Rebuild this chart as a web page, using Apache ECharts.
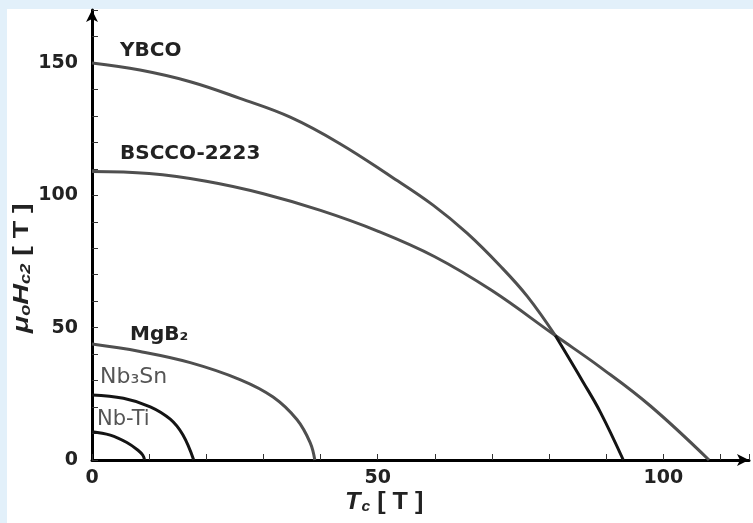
<!DOCTYPE html>
<html>
<head>
<meta charset="utf-8">
<script src="https://cdn.jsdelivr.net/npm/echarts@6/dist/echarts.min.js"></script>
<style>
html,body{margin:0;padding:0;background:#fff;}
#c{width:753px;height:523px;}
</style>
</head>
<body>
<div id="c"></div>
<script>
// Data
const tempYBCO = [0, 8.4, 17.2, 25.9, 34.7, 43.4, 52.2, 59.7, 65.7, 71.5, 76.2, 81.1, 86.0, 89.0, 93];
const hc2YBCO  = [150, 147.3, 142.9, 136.6, 129.5, 119.5, 107.3, 96.3, 85.6, 73.2, 61.8, 47.0, 29.3, 18.0, 0];

const tempBSCCO = [0, 10, 20, 30, 40, 50, 60, 70, 81.1, 89, 97.7, 108];
const hc2BSCCO  = [109, 108.2, 105.3, 100.6, 94.3, 86.5, 76.8, 64.0, 47.0, 35.0, 20.5, 0];

const tempMgB2 = [0, 8.4, 17.2, 25.9, 31.7, 35.9, 38.2, 39];
const hc2MgB2  = [43.8, 41.0, 36.8, 30.4, 23.8, 15.2, 6.5, 0];

const tempNb3Sn = [0, 5.5, 10.2, 13.7, 15.9, 17.8];
const hc2Nb3Sn  = [24.6, 23.3, 20.1, 15.4, 9.5, 0];

const tempNbTi = [0, 3.2, 6.1, 8.1, 8.9, 9.2];
const hc2NbTi  = [10.7, 9.4, 6.6, 3.6, 1.8, 0];

const xTickLabels = [0, 50, 100];
const yTickLabels = [0, 50, 100, 150];

const seriesNames = ['YBCO', 'BSCCO-2223', 'MgB₂', 'Nb₃Sn', 'Nb-Ti'];
// YBCO curve turns black after crossing BSCCO-2223 (index of the crossing point)
const ybcoCrossIndex = 11;

function pairs(xs, ys) { return xs.map((x, i) => [x, ys[i]]); }

const chart = echarts.init(document.getElementById('c'), null, {renderer: 'canvas'});
const GRAY = '#4f4f4f', BLACK = '#141414';
const lab = {fontFamily: 'DejaVu Sans, sans-serif', fontWeight: 'bold', fontSize: 19, color: '#222'};

function line(name, data, color, z) {
  return {
    name, type: 'line', data, smooth: 0.4, showSymbol: false, symbol: 'none',
    lineStyle: {color, width: 3}, z: z || 2, animation: false
  };
}

const ybco = pairs(tempYBCO, hc2YBCO);

chart.setOption({
  animation: false,
  backgroundColor: '#fff',
  grid: {left: 92, top: 10, width: 657, height: 450},
  xAxis: {
    type: 'value', min: 0, max: 115, interval: 10,
    axisLine: {lineStyle: {color: '#000', width: 3}, symbol: ['none', 'arrow'], symbolSize: [9, 12]},
    axisTick: {inside: true, length: 6, lineStyle: {color: '#333', width: 1}},
    splitLine: {show: false},
    axisLabel: Object.assign({}, lab, {margin: 9,
      formatter: v => xTickLabels.indexOf(v) >= 0 ? String(v) : ''})
  },
  yAxis: {
    type: 'value', min: 0, max: 170, interval: 10,
    axisLine: {lineStyle: {color: '#000', width: 3}, symbol: ['none', 'arrow'], symbolSize: [9, 12]},
    axisTick: {inside: true, length: 6, lineStyle: {color: '#333', width: 1}},
    splitLine: {show: false},
    axisLabel: Object.assign({}, lab, {margin: 14,
      formatter: v => yTickLabels.indexOf(v) >= 0 ? String(v) : ''})
  },
  series: [
    line(seriesNames[0], ybco.slice(0, ybcoCrossIndex + 1), GRAY, 3),
    line(seriesNames[0], ybco.slice(ybcoCrossIndex), BLACK, 3),
    line(seriesNames[1], pairs(tempBSCCO, hc2BSCCO), GRAY, 2),
    line(seriesNames[2], pairs(tempMgB2, hc2MgB2), GRAY, 2),
    line(seriesNames[3], pairs(tempNb3Sn, hc2Nb3Sn), BLACK, 2),
    line(seriesNames[4], pairs(tempNbTi, hc2NbTi), BLACK, 2)
  ],
  graphic: [
    {type: 'rect', shape: {x: 0, y: 0, width: 753, height: 9}, style: {fill: '#e2f0fa'}, z: -10, silent: true},
    {type: 'rect', shape: {x: 0, y: 0, width: 7, height: 523}, style: {fill: '#e2f0fa'}, z: -10, silent: true},
    {type: 'text', left: 120, top: 41, style: {text: seriesNames[0], font: 'bold 20px "DejaVu Sans"', fill: '#222'}},
    {type: 'text', left: 120, top: 144, style: {text: seriesNames[1], font: 'bold 20px "DejaVu Sans"', fill: '#222'}},
    {type: 'text', left: 130, top: 325, style: {text: seriesNames[2], font: 'bold 20px "DejaVu Sans"', fill: '#222'}},
    {type: 'text', left: 100, top: 366, style: {text: seriesNames[3], font: '22px "DejaVu Sans"', fill: '#555'}},
    {type: 'text', left: 97, top: 409, style: {text: seriesNames[4], font: '21px "DejaVu Sans"', fill: '#555'}},
    {type: 'text', x: 345, y: 490, scaleX: 1.05, style: {
      text: '{i|T}{s|c}{n| [ T ]}',
      rich: {
        i: {font: 'italic bold 24px "Liberation Sans"', fill: '#222'},
        s: {font: 'italic bold 15px "Liberation Sans"', fill: '#222', padding: [9, 0, 0, 1]},
        n: {font: 'bold 24px "Liberation Sans"', fill: '#222'}
      }}},
    {type: 'text', x: 10, y: 333, rotation: Math.PI / 2, scaleX: 1.3, style: {
      text: '{i|μ}{s|o}{i|H}{s|c2}{n| [ T ]}',
      rich: {
        i: {font: 'italic bold 22px "Liberation Sans"', fill: '#222'},
        s: {font: 'italic bold 14px "Liberation Sans"', fill: '#222', padding: [9, 0, 0, 0]},
        n: {font: 'bold 22px "Liberation Sans"', fill: '#222'}
      }}}
  ]
});
</script>
</body>
</html>
